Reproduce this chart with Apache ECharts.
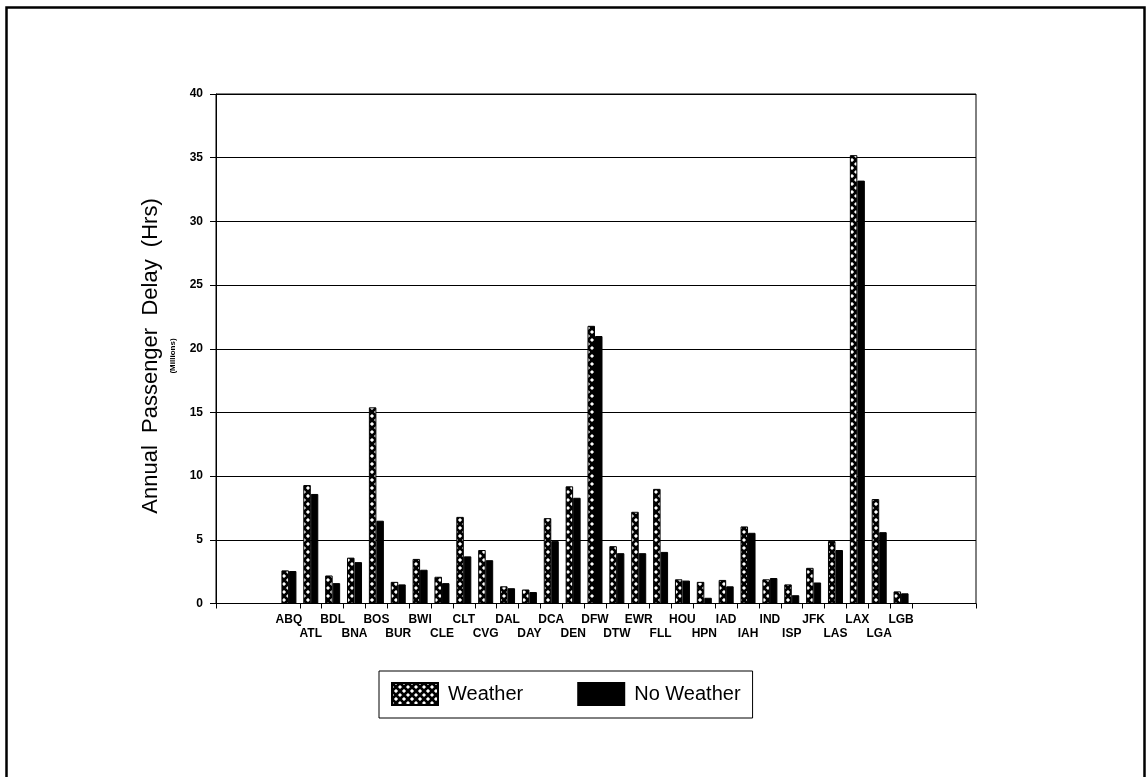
<!DOCTYPE html>
<html>
<head>
<meta charset="utf-8">
<script src="https://cdn.jsdelivr.net/npm/echarts@6/dist/echarts.min.js"></script>
<style>
html,body{margin:0;padding:0;background:#fff;}
#chart{width:1146px;height:777px;}
</style>
</head>
<body>
<div id="chart"></div>
<script>
// ---- data ----
const categories = ['ABQ','ATL','BDL','BNA','BOS','BUR','BWI','CLE','CLT','CVG','DAL','DAY','DCA','DEN','DFW','DTW','EWR','FLL','HOU','HPN','IAD','IAH','IND','ISP','JFK','LAS','LAX','LGA','LGB'];
const weather   = [2.6, 9.3, 2.2, 3.6, 15.4, 1.7, 3.5, 2.1, 6.8, 4.2, 1.35, 1.1, 6.7, 9.2, 21.8, 4.5, 7.2, 9.0, 1.9, 1.7, 1.85, 6.05, 1.9, 1.5, 2.8, 4.9, 35.2, 8.2, 0.95];
const noWeather = [2.55, 8.6, 1.6, 3.25, 6.5, 1.5, 2.65, 1.6, 3.7, 3.4, 1.2, 0.9, 4.9, 8.3, 21.0, 3.95, 3.95, 4.05, 1.8, 0.45, 1.35, 5.55, 2.0, 0.65, 1.65, 4.2, 33.2, 5.6, 0.8];
const yTicks = [0, 5, 10, 15, 20, 25, 30, 35, 40];
const seriesNames = ['Weather', 'No Weather'];
const yTitle = 'Annual  Passenger  Delay  (Hrs)';
const ySubTitle = '(Millions)';

function makePattern(){
  const s = 8;
  const c = document.createElement('canvas');
  c.width = s; c.height = s;
  const g = c.getContext('2d');
  g.fillStyle = '#fff';
  g.fillRect(0,0,s,s);
  g.strokeStyle = '#000';
  g.lineWidth = 2.7;
  g.beginPath();
  g.moveTo(-2,-2); g.lineTo(s+2,s+2);
  g.moveTo(s+2,-2); g.lineTo(-2,s+2);
  g.stroke();
  return c;
}
const pattern = {image: makePattern(), repeat: 'repeat'};

const chart = echarts.init(document.getElementById('chart'), null, {renderer:'canvas'});
const labelFont = 'Liberation Sans Narrow, Arial Narrow, sans-serif';

const option = {
  backgroundColor: '#fff',
  animation: false,
  grid: [
    {left: 216, top: 94, width: 760, height: 509.5, show: true, borderColor: '#000', borderWidth: 1, backgroundColor: 'transparent'},
    {left: 278, top: 94, width: 634, height: 509.5, show: false}
  ],
  xAxis: [
    {gridIndex: 0, type: 'value', min: 0, max: 1, interval: 1,
     axisLine: {show: true, lineStyle: {color: '#000', width: 1}},
     axisTick: {show: true, length: 5, lineStyle: {color: '#000'}},
     axisLabel: {show: false}, splitLine: {show: false}},
    {gridIndex: 1, type: 'category', data: categories,
     axisLine: {show: false},
     axisTick: {show: true, length: 5, interval: function(i){ return i > 0; }, lineStyle: {color: '#000'}},
     axisLabel: {show: true, interval: 0, margin: 9, color: '#000', fontFamily: labelFont, fontWeight: 'bold', fontSize: 12, lineHeight: 14,
       formatter: function(v, i){ return i % 2 ? '\n' + v : v; }},
     splitLine: {show: false}}
  ],
  yAxis: [
    {gridIndex: 0, type: 'value', min: yTicks[0], max: yTicks[yTicks.length-1], interval: 5,
     axisLine: {show: true, lineStyle: {color: '#000'}},
     axisTick: {show: true, length: 6, lineStyle: {color: '#000'}},
     axisLabel: {color: '#000', fontFamily: labelFont, fontWeight: 'bold', fontSize: 12, margin: 13},
     splitLine: {show: true, lineStyle: {color: '#000', width: 1}}},
    {gridIndex: 1, type: 'value', min: yTicks[0], max: yTicks[yTicks.length-1], interval: 5, show: false, splitLine: {show: false}}
  ],
  legend: {
    data: seriesNames,
    left: 379, top: 671,
    orient: 'horizontal',
    icon: 'rect',
    itemWidth: 46, itemHeight: 22, itemGap: 54,
    padding: [11, 12, 12, 12],
    borderColor: '#000', borderWidth: 1,
    textStyle: {color: '#000', fontFamily: 'Liberation Sans, Arial, sans-serif', fontSize: 20, padding: [0,0,0,5]}
  },
  graphic: [
    {type: 'rect', left: 4, top: 5, shape: {width: 1138, height: 790}, style: {fill: 'none', stroke: '#000', lineWidth: 2.5}, silent: true},
    {type: 'text', x: 151, y: 356, rotation: Math.PI/2,
     style: {text: yTitle, fill: '#000', font: '22px "Liberation Sans", Arial, sans-serif', align: 'center', verticalAlign: 'middle'}},
    {type: 'text', x: 173, y: 356, rotation: Math.PI/2,
     style: {text: ySubTitle, fill: '#000', font: 'bold 8px "Liberation Sans Narrow", Arial, sans-serif', align: 'center', verticalAlign: 'middle'}}
  ],
  series: [
    {name: seriesNames[0], type: 'bar', xAxisIndex: 1, yAxisIndex: 1, data: weather,
     barWidth: 7.5, barGap: '0%',
     itemStyle: {color: pattern, borderColor: '#000', borderWidth: 1}},
    {name: seriesNames[1], type: 'bar', xAxisIndex: 1, yAxisIndex: 1, data: noWeather,
     barWidth: 7.5, barGap: '0%',
     itemStyle: {color: '#000', borderColor: '#000', borderWidth: 1}}
  ]
};
chart.setOption(option);
</script>
</body>
</html>
